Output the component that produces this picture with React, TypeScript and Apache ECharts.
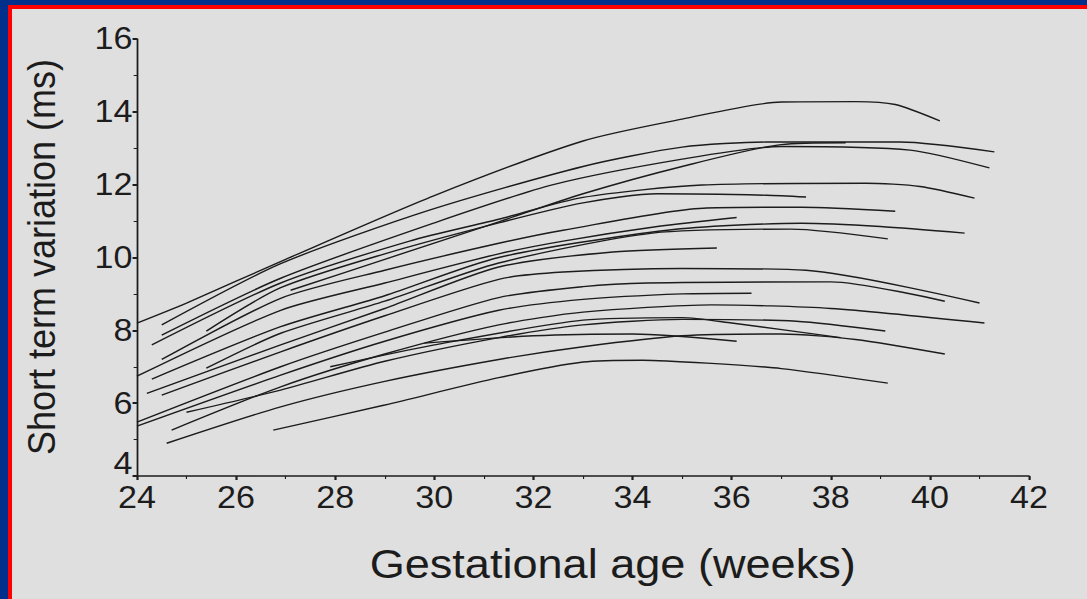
import React, { useEffect, useRef } from "react";
import * as echarts from "echarts";

// Gestational age (weeks) / short term variation (ms) pairs, one array per fetus
const curve01: [number, number][] = [[24, 8.2], [25, 8.75], [27, 9.95], [30, 11.7], [33, 13.2], [35, 13.8], [37, 14.27], [38.5, 14.28], [39.3, 14.2], [40.2, 13.75]];
const curve02: [number, number][] = [[24.5, 8.15], [26.9, 9.83], [29.9, 11.3], [33, 12.5], [35, 13.03], [36.7, 13.17], [39.4, 13.17], [41.3, 12.9]];
const curve03: [number, number][] = [[24.5, 7.87], [26.9, 9.43], [30, 10.95], [32.4, 12.0], [35, 12.7], [37, 13.05], [39.6, 12.95], [41.2, 12.46]];
const curve04: [number, number][] = [[27.1, 9.1], [29, 9.95], [31.3, 10.98], [33, 11.75], [35, 12.5], [37, 13.1], [38.3, 13.15]];
const curve05: [number, number][] = [[24.3, 7.6], [26.9, 9.3], [29.5, 10.45], [31.3, 11.05], [33, 11.65], [35.4, 11.99], [38.7, 12.04], [39.8, 11.95], [40.9, 11.63]];
const curve06: [number, number][] = [[25.4, 7.98], [26.9, 9.17], [29, 10.1], [31.3, 10.95], [33, 11.5], [34.5, 11.75], [36.7, 11.71], [37.5, 11.66]];
const curve07: [number, number][] = [[24.5, 7.2], [26.9, 8.88], [29, 9.65], [31.3, 10.39], [32.6, 10.75], [35.5, 11.36], [37.4, 11.38], [39.3, 11.27]];
const curve08: [number, number][] = [[24, 6.74], [26.9, 8.55], [29, 9.3], [31.3, 10.1], [32.6, 10.45], [34.5, 10.85], [36.1, 11.1]];
const curve09: [number, number][] = [[24.3, 6.66], [26.9, 8.1], [29, 8.95], [31.3, 10.0], [34.7, 10.75], [37.4, 10.94], [39, 10.85], [40.7, 10.67]];
const curve10: [number, number][] = [[25.4, 6.96], [26.9, 7.92], [29, 8.8], [31.3, 9.85], [34.4, 10.67], [37.2, 10.78], [39.15, 10.51]];
const curve11: [number, number][] = [[24.2, 6.27], [26.9, 7.6], [29, 8.6], [31.3, 9.74], [33.6, 10.15], [35.7, 10.26]];
const curve12: [number, number][] = [[24.5, 6.22], [26.9, 7.41], [29, 8.4], [31.3, 9.4], [32.6, 9.6], [35, 9.7], [37.5, 9.65], [41, 8.75]];
const curve13: [number, number][] = [[24, 5.48], [26.9, 7.0], [29, 7.95], [31.3, 8.9], [33, 9.2], [34.3, 9.3], [38, 9.33], [40.3, 8.8]];
const curve14: [number, number][] = [[24, 5.37], [26.9, 6.77], [29, 7.7], [31.3, 8.55], [33, 8.85], [35, 9.0], [36.4, 9.02]];
const curve15: [number, number][] = [[24.7, 5.26], [26.9, 6.45], [29, 7.35], [31.3, 8.15], [33, 8.5], [35.6, 8.7], [38, 8.6], [41.1, 8.2]];
const curve16: [number, number][] = [[25, 5.75], [26.9, 6.36], [29, 7.15], [31.3, 7.8], [33, 8.15], [35, 8.3], [37.3, 8.25], [39.1, 7.98]];
const curve17: [number, number][] = [[27.9, 7.0], [30, 7.6], [33, 8.28], [35, 8.35], [36, 8.2], [38.2, 7.8]];
const curve18: [number, number][] = [[29.8, 7.65], [32, 7.85], [34, 7.9], [36.1, 7.7]];
const curve19: [number, number][] = [[24.6, 4.9], [26.9, 5.9], [29, 6.6], [31.3, 7.2], [33, 7.55], [35, 7.85], [37, 7.9], [38.5, 7.75], [40.3, 7.35]];
const curve20: [number, number][] = [[26.75, 5.26], [29, 5.95], [31.3, 6.7], [33, 7.13], [34.2, 7.18], [35.5, 7.1], [37, 6.95], [39.15, 6.55]];

const curves = [
  curve01, curve02, curve03, curve04, curve05, curve06, curve07, curve08, curve09, curve10,
  curve11, curve12, curve13, curve14, curve15, curve16, curve17, curve18, curve19, curve20,
];

const xTitle = "Gestational age (weeks)";
const yTitle = "Short term variation (ms)";

const BLUE = "#00308c";
const RED = "#ff0000";
const GRAY = "#dfdfdf";
const INK = "#1c1c1c";
const FONT = "'Liberation Sans', Arial, Helvetica, sans-serif";
const SX = 1.1;
const CW = Math.round(1087 / SX);

export default function App() {
  const ref = useRef<HTMLDivElement>(null);
  useEffect(() => {
    if (!ref.current) return;
    const chart = echarts.init(ref.current, null, { renderer: "svg" });
    chart.setOption({
      animation: false,
      backgroundColor: "transparent",
      grid: { left: 124.5, right: CW - 935.5, top: 39, bottom: 123, containLabel: false },
      xAxis: {
        type: "value",
        min: 24,
        max: 42,
        interval: 2,
        axisLine: { show: true, onZero: false, lineStyle: { color: INK, width: 1.6 } },
        axisTick: { show: true, length: 4, lineStyle: { color: INK, width: 2 } },
        minorTick: { show: true, splitNumber: 2, length: 3, lineStyle: { color: INK, width: 1 } },
        splitLine: { show: false },
        axisLabel: { fontSize: 31, color: INK, fontFamily: FONT, margin: 6 },
      },
      yAxis: {
        type: "value",
        min: 4,
        max: 16,
        interval: 2,
        axisLine: { show: true, onZero: false, lineStyle: { color: INK, width: 1.6 } },
        axisTick: { show: true, length: 4, lineStyle: { color: INK, width: 2 } },
        minorTick: { show: true, splitNumber: 2, length: 3, lineStyle: { color: INK, width: 1 } },
        splitLine: { show: false },
        axisLabel: {
          fontSize: 31,
          color: INK,
          fontFamily: FONT,
          margin: 4,
          formatter: (v: number) => (v === 4 ? `{low|${v}}` : `${v}`),
          rich: {
            low: { fontSize: 31, color: INK, fontFamily: FONT, padding: [0, 0, 24, 0] },
          },
        },
      },
      graphic: [
        {
          type: "text",
          x: 557,
          y: 564,
          style: {
            text: xTitle,
            fontSize: 41,
            fontFamily: FONT,
            fill: INK,
            textAlign: "center",
            textVerticalAlign: "middle",
          },
        },
        {
          type: "text",
          x: 38,
          y: 257,
          rotation: Math.PI / 2,
          style: {
            text: yTitle,
            fontSize: 36,
            fontFamily: FONT,
            fill: INK,
            textAlign: "center",
            textVerticalAlign: "middle",
          },
        },
      ],
      series: curves.map((c, i) => ({
        name: "fetus " + (i + 1),
        type: "line",
        data: c,
        showSymbol: false,
        smooth: 0.25,
        silent: true,
        lineStyle: { color: INK, width: 1.4 },
      })),
    });
    return () => chart.dispose();
  }, []);

  return (
    <div style={{ position: "absolute", left: 0, top: 0, width: 1087, height: 599, background: BLUE, overflow: "hidden" }}>
      <div style={{ position: "absolute", left: 8, top: 5, right: 0, bottom: 0, background: RED }} />
      <div style={{ position: "absolute", left: 12, top: 9, right: 0, bottom: 0, background: GRAY }} />
      <div
        ref={ref}
        style={{ position: "absolute", left: 0, top: 0, width: CW, height: 599, transform: `scaleX(${SX})`, transformOrigin: "0 0" }}
      />
    </div>
  );
}
